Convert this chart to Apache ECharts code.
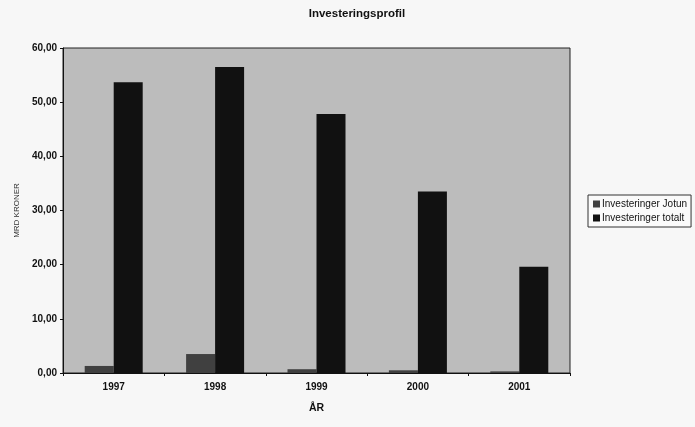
<!DOCTYPE html>
<html>
<head>
<meta charset="utf-8">
<script src="https://cdn.jsdelivr.net/npm/echarts@6/dist/echarts.min.js"></script>
<style>
  html, body { margin: 0; padding: 0; background: #f7f7f7; }
  #main { width: 695px; height: 427px; }
</style>
</head>
<body>
<div id="main"></div>
<script>
// data
var years = ['1997', '1998', '1999', '2000', '2001'];
var jotun = [1.3, 3.5, 0.7, 0.5, 0.3];
var totalt = [53.7, 56.5, 47.8, 33.5, 19.6];
var yTicks = [0, 10, 20, 30, 40, 50, 60];

var chart = echarts.init(document.getElementById('main'));

var option = {
  backgroundColor: '#f7f7f7',
  animation: false,
  textStyle: { fontFamily: 'Liberation Sans, Arial, sans-serif' },
  title: {
    text: 'Investeringsprofil',
    left: 352,
    top: 3,
    textAlign: 'center',
    textStyle: { fontSize: 11.5, fontWeight: 'bold', color: '#111' }
  },
  legend: {
    orient: 'vertical',
    left: 588,
    top: 195,
    padding: [4, 4, 4, 5],
    itemGap: 4,
    itemWidth: 7,
    itemHeight: 7,
    icon: 'rect',
    backgroundColor: '#fafafa',
    borderColor: '#333',
    borderWidth: 1,
    textStyle: { fontSize: 10, color: '#111', padding: [0, 0, 0, -3] },
    data: ['Investeringer Jotun', 'Investeringer totalt']
  },
  grid: {
    left: 63,
    right: 125,
    top: 48,
    bottom: 54,
    show: true,
    backgroundColor: '#bcbcbc',
    borderColor: '#222',
    borderWidth: 1
  },
  xAxis: {
    type: 'category',
    data: years,
    name: 'ÅR',
    nameLocation: 'middle',
    nameGap: 30,
    nameTextStyle: { fontSize: 10.5, fontWeight: 'bold', color: '#111' },
    axisLine: { lineStyle: { color: '#111', width: 1 } },
    axisTick: { show: true, length: 3, lineStyle: { color: '#111' } },
    axisLabel: { fontSize: 10, fontWeight: 'bold', color: '#111', margin: 9 },
    splitLine: { show: false }
  },
  yAxis: {
    type: 'value',
    min: yTicks[0],
    max: yTicks[yTicks.length - 1],
    interval: 10,
    name: 'MRD KRONER',
    nameLocation: 'middle',
    nameGap: 42,
    nameRotate: 90,
    nameTextStyle: { fontSize: 8, color: '#333' },
    axisLine: { show: true, lineStyle: { color: '#111', width: 1 } },
    axisTick: { show: true, length: 3, lineStyle: { color: '#111' } },
    axisLabel: {
      fontSize: 10,
      fontWeight: 'bold',
      color: '#111',
      margin: 6,
      formatter: function (v) { return v.toFixed(2).replace('.', ','); }
    },
    splitLine: { show: false }
  },
  series: [{
    name: 'Investeringer Jotun',
    type: 'bar',
    data: jotun,
    barWidth: 29,
    barGap: '0%',
    itemStyle: { color: '#404040' }
  }, {
    name: 'Investeringer totalt',
    type: 'bar',
    data: totalt,
    barWidth: 29,
    itemStyle: { color: '#111111' }
  }]
};

chart.setOption(option);
</script>
</body>
</html>
